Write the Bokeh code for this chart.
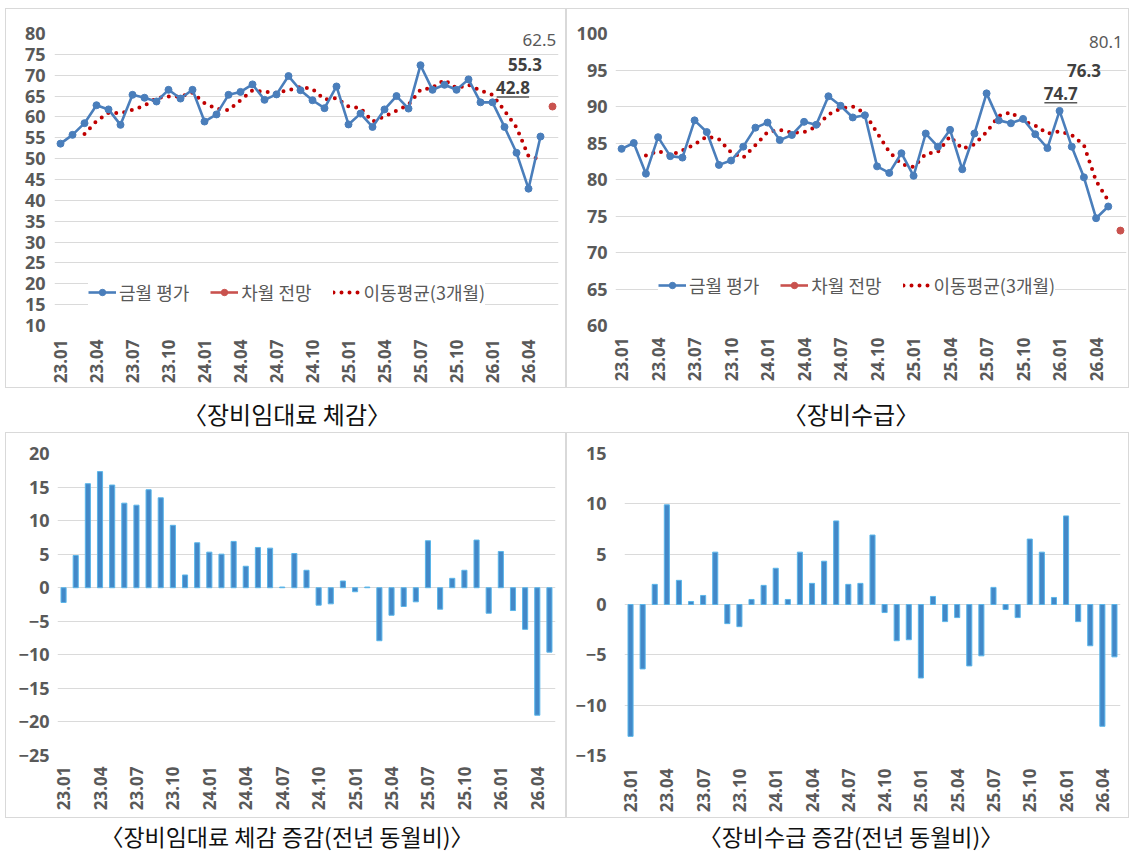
import math
from bokeh.plotting import figure
from bokeh.models import Range1d, FixedTicker, Legend, LegendItem, Spacer
from bokeh.layouts import column, row
from bokeh.embed import file_html
from bokeh.resources import INLINE
from bokeh.core.properties import value

# ---------------- data ----------------
months = ["23.01", "23.02", "23.03", "23.04", "23.05", "23.06", "23.07", "23.08", "23.09", "23.10", "23.11", "23.12",
          "24.01", "24.02", "24.03", "24.04", "24.05", "24.06", "24.07", "24.08", "24.09", "24.10", "24.11", "24.12",
          "25.01", "25.02", "25.03", "25.04", "25.05", "25.06", "25.07", "25.08", "25.09", "25.10", "25.11", "25.12",
          "26.01", "26.02", "26.03", "26.04", "26.05", "26.06"]
tick_labels = ["23.01", "23.04", "23.07", "23.10", "24.01", "24.04", "24.07", "24.10",
               "25.01", "25.04", "25.07", "25.10", "26.01", "26.04"]

# 장비임대료 체감 (금월 평가, 23.01~26.05)
rent_now = [53.6, 55.7, 58.5, 62.8, 61.8, 58.1, 65.3, 64.6, 63.7, 66.5, 64.4, 66.5,
            58.9, 60.6, 65.3, 66.0, 67.8, 64.1, 65.4, 69.8, 66.4, 64.0, 62.1, 67.3,
            58.2, 60.8, 57.6, 61.8, 65.0, 62.0, 72.4, 66.5, 67.7, 66.5, 69.0, 63.5,
            63.5, 57.6, 51.4, 42.8, 55.3]
rent_next = [62.5]          # 차월 전망 (26.06)
rent_ma3 = [55.9, 59.0, 61.0, 60.9, 61.7, 62.7, 64.5, 64.9, 64.9, 65.8, 63.3, 62.0, 61.6,
            64.0, 66.4, 66.0, 65.8, 66.4, 67.2, 66.7, 64.2, 64.5, 62.5, 62.1, 58.9, 60.1,
            61.5, 62.9, 66.5, 67.0, 68.9, 66.9, 67.7, 66.3, 65.3, 61.5, 57.5, 50.6, 49.8]  # 23.03~26.05
rent_notes = ["62.5", "55.3", "42.8"]

# 장비수급 (금월 평가, 23.01~26.05)
supply_now = [84.2, 85.0, 80.8, 85.8, 83.2, 83.0, 88.1, 86.5, 82.0, 82.6, 84.5, 87.1,
              87.8, 85.4, 86.1, 87.9, 87.5, 91.4, 90.1, 88.5, 88.8, 81.8, 80.9, 83.6,
              80.5, 86.3, 84.5, 86.8, 81.4, 86.3, 91.8, 88.1, 87.7, 88.3, 86.2, 84.3,
              89.4, 84.5, 80.3, 74.7, 76.3]
supply_next = [73.0]
supply_ma3 = [83.3, 83.9, 83.3, 84.0, 84.8, 85.9, 85.5, 83.7, 83.0, 84.7, 86.5, 86.8, 86.4,
              86.5, 87.2, 88.9, 89.7, 90.0, 89.1, 86.4, 83.8, 82.1, 81.7, 83.5, 83.8, 85.9,
              84.2, 84.8, 86.5, 88.7, 89.2, 88.0, 87.4, 86.3, 86.6, 86.1, 84.7, 79.8, 77.1]
supply_notes = ["80.1", "76.3", "74.7"]

# 증감 (전년 동월비, 23.01~26.05)
rent_yoy = [-2.2, 4.8, 15.5, 17.3, 15.3, 12.6, 12.3, 14.6, 13.4, 9.3, 1.9, 6.7,
            5.3, 5.0, 6.9, 3.2, 6.0, 5.9, 0.1, 5.1, 2.6, -2.6, -2.4, 1.0,
            -0.6, 0.1, -7.9, -4.1, -2.8, -2.1, 7.0, -3.2, 1.4, 2.6, 7.1, -3.8,
            5.4, -3.4, -6.2, -19.0, -9.6]
supply_yoy = [-13.1, -6.4, 2.0, 9.9, 2.4, 0.3, 0.9, 5.2, -1.9, -2.2, 0.5, 1.9,
              3.6, 0.5, 5.2, 2.1, 4.3, 8.3, 2.0, 2.1, 6.9, -0.8, -3.6, -3.5,
              -7.3, 0.8, -1.7, -1.3, -6.1, -5.1, 1.7, -0.5, -1.3, 6.5, 5.2, 0.7,
              8.8, -1.7, -4.1, -12.1, -5.2]

legend_labels = ["금월 평가", "차월 전망", "이동평균(3개월)"]
captions = ["〈장비임대료 체감〉", "〈장비수급〉", "〈장비임대료 체감 증감(전년 동월비)〉", "〈장비수급 증감(전년 동월비)〉"]

# ---------------- styles ----------------
BLUE = "#4A7EBB"
RED_PT = "#C9524E"
MA_RED = "#C00000"
GRID = "#DADADA"
TXT = "#595959"
NUM_FONT = "Noto Sans"
KR_FONT = "Noto Sans CJK KR"
BAR_FILL = "#4288C8"
BAR_LINE = "#5AB6EA"

idx_now = [months.index(m) for m in months[:len(rent_now)]]
idx_next = [months.index("26.06")]
idx_ma = idx_now[2:]
tick_pos = [months.index(t) for t in tick_labels]


def base_fig(w, h, borders, xr, yr, xstand, ystand):
    l, r, t, b = borders
    p = figure(width=w, height=h, output_backend="svg", toolbar_location=None, title=None,
               x_range=Range1d(*xr), y_range=Range1d(*yr),
               min_border_left=l, min_border_right=r, min_border_top=t, min_border_bottom=b,
               styles={"border": "1px solid #D9D9D9"})
    p.outline_line_color = None
    p.background_fill_color = "white"
    p.border_fill_color = "white"
    yt = FixedTicker(ticks=list(range(int(yr[0]), int(yr[1]) + 1, 5)))
    xt = FixedTicker(ticks=tick_pos)
    p.yaxis.ticker = yt
    p.ygrid.ticker = yt
    p.xaxis.ticker = xt
    p.xgrid.grid_line_color = None
    p.ygrid.grid_line_color = GRID
    p.ygrid.grid_line_width = 1
    p.xaxis.major_label_overrides = {i: lab for i, lab in zip(tick_pos, tick_labels)}
    p.xaxis.major_label_orientation = math.pi / 2
    p.xaxis.major_label_standoff = xstand
    p.yaxis.major_label_standoff = ystand
    for ax in (p.xaxis[0], p.yaxis[0]):
        ax.axis_line_color = None
        ax.major_tick_line_color = None
        ax.minor_tick_line_color = None
        ax.major_tick_out = 0
        ax.major_label_text_font = NUM_FONT
        ax.major_label_text_font_style = "bold"
        ax.major_label_text_color = TXT
    p.yaxis.major_label_text_font_size = "18px"
    p.xaxis.major_label_text_font_size = "17px"
    return p


def line_panel(p, now, nxt, ma, notes, note_x, note_y, ul_dy, ul_half, leg_loc):
    ma_r = p.line(idx_ma, ma, line_color=MA_RED, line_width=4, line_dash="0 8", line_cap="round")
    b_line = p.line(idx_now, now, line_color=BLUE, line_width=2.6)
    b_pts = p.scatter(idx_now, now, size=7, fill_color=BLUE, line_color=BLUE)
    r_line = p.line(idx_next, nxt, line_color=RED_PT, line_width=2.6)
    r_pts = p.scatter(idx_next, nxt, size=7, fill_color=RED_PT, line_color=RED_PT)
    # value notes
    p.text(x=[note_x[0]], y=[note_y[0]], text=[notes[0]], text_align="center", text_baseline="middle",
           text_font=value(NUM_FONT), text_font_size="17px", text_color=TXT)
    p.text(x=note_x[1:], y=note_y[1:], text=notes[1:], text_align="center", text_baseline="middle",
           text_font=value(NUM_FONT), text_font_size="17px", text_font_style="bold", text_color="#404040")
    p.segment(x0=[note_x[2] - ul_half], x1=[note_x[2] + ul_half], y0=[note_y[2] - ul_dy], y1=[note_y[2] - ul_dy],
              line_color=TXT, line_width=1.5)
    legend = Legend(items=[LegendItem(label=legend_labels[0], renderers=[b_line, b_pts]),
                           LegendItem(label=legend_labels[1], renderers=[r_line, r_pts]),
                           LegendItem(label=legend_labels[2], renderers=[ma_r])],
                    orientation="horizontal", location=leg_loc,
                    label_text_font=KR_FONT, label_text_font_size="18px", label_text_color=TXT,
                    glyph_width=28, glyph_height=16, label_standoff=3, spacing=21,
                    padding=0, margin=0, border_line_color=None,
                    background_fill_color="white", background_fill_alpha=1.0)
    p.add_layout(legend)
    return p


def bar_panel(p, vals):
    p.vbar(x=idx_now, top=vals, bottom=0, width=0.42, fill_color=BAR_FILL, line_color=BAR_LINE, line_width=1)
    return p


def caption_fig(text, w, h, ypos, size):
    c = figure(width=w, height=h, output_backend="svg", toolbar_location=None, title=None,
               x_range=Range1d(0, 1), y_range=Range1d(0, 1),
               x_axis_location=None, y_axis_location=None,
               min_border_left=0, min_border_right=0, min_border_top=0, min_border_bottom=0)
    c.grid.visible = False
    c.outline_line_color = None
    c.background_fill_color = "white"
    c.border_fill_color = "white"
    c.text(x=[0.5], y=[ypos], text=[text], text_align="center", text_baseline="middle",
           text_font=value(KR_FONT), text_font_size=size, text_color="#111111")
    return c


# top-left
f1 = base_fig(561, 380, (48, 9, 24, 64), (-0.5, 41.5), (10, 80), 14, 9)
line_panel(f1, rent_now, rent_next, rent_ma3, rent_notes,
           [39.9, 38.7, 37.7], [78.5, 72.6, 67.1], 2.3, 1.35, (34, 20))
# top-right
f2 = base_fig(563, 380, (48, 4, 23, 61), (-0.5, 41.5), (60, 100), 12, 8)
line_panel(f2, supply_now, supply_next, supply_ma3, supply_notes,
           [39.8, 38.0, 36.1], [98.8, 94.9, 91.8], 1.3, 1.35, (43, 27))
# bottom-left
f3 = base_fig(561, 386, (51, 12, 20, 64), (-0.5, 40.5), (-25, 20), 11, 8)
bar_panel(f3, rent_yoy)
# bottom-right
f4 = base_fig(563, 386, (57, 10, 20, 64), (-0.5, 40.5), (-15, 15), 13, 18)
bar_panel(f4, supply_yoy)

c1 = caption_fig(captions[0], 563, 44, 0.43, "24px")
c2 = caption_fig(captions[1], 565, 44, 0.43, "24px")
c3 = caption_fig(captions[2], 563, 35, 0.5, "23px")
c4 = caption_fig(captions[3], 565, 35, 0.5, "23px")

grid = column(row(f1, f2), row(c1, c2), row(f3, f4), row(c3, c4))
layout = column(Spacer(height=8), row(Spacer(width=5), grid))
open("out.html", "w").write(file_html(layout, INLINE))
